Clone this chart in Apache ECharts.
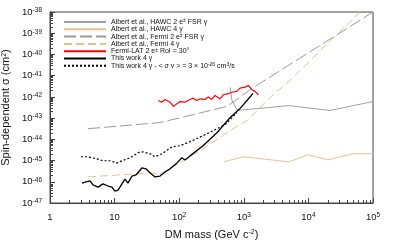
<!DOCTYPE html>
<html><head><meta charset="utf-8">
<script src="https://cdn.jsdelivr.net/npm/echarts@6/dist/echarts.min.js"></script>
<style>html,body{margin:0;padding:0;background:#fff}#c{width:415px;height:242px}#err{position:absolute;left:0;top:150px;font:9px sans-serif;color:#00f;width:415px}</style>
</head><body><div id="c"></div><div id="err"></div>
<script>
// Tick exponents (labels are 10^n)
const xTickExponents = [0, 1, 2, 3, 4, 5];
const yTickExponents = [-47, -46, -45, -44, -43, -42, -41, -40, -39, -38];
// Minor tick multipliers inside each decade
const minorMultipliers = [2, 3, 4, 5, 6, 7, 8, 9];
// y axis is drawn in units of 1e-47 cm^2 (label exponent = log10(value) + Y_REF)
const Y_REF = -47;

// Series: DM mass (GeV) and log10 of sigma (cm^2)
const hawc2eMass = [614, 657, 790, 5000, 21500, 100000];
const hawc2eLogSigma = [-41.55, -42.17, -42.64, -42.41, -42.64, -42.22];

const hawc4gMass = [494, 977, 5000, 9800, 20000, 49000, 100000];
const hawc4gLogSigma = [-45.06, -44.82, -45.06, -44.73, -44.97, -44.68, -44.68];

const fermi2eMass = [3.88, 50.5, 550, 1340, 100000];
const fermi2eLogSigma = [-43.50, -43.21, -42.45, -41.60, -38.0];

const fermi4gMass = [3.88, 35.3, 50.5, 72.1, 234, 681, 1122, 2285, 5190, 63000];
const fermi4gLogSigma = [-45.77, -45.58, -45.63, -45.39, -44.45, -43.50, -43.12, -42.17, -41.22, -38.0];

const latMass = [47.5, 53.6, 60.3, 72.1, 81.1, 91.5, 103, 123, 147, 165, 187, 210, 251, 282, 318, 358, 428, 482, 576, 650, 777, 873, 1045, 1175, 1247, 1325, 1490, 1676];
const latLogSigma = [-42.17, -42.25, -42.12, -42.25, -42.45, -42.33, -42.22, -42.25, -42.12, -42.06, -42.17, -42.09, -42.12, -42.01, -42.12, -41.93, -42.09, -41.90, -41.85, -41.78, -41.74, -41.59, -41.54, -41.46, -41.54, -41.65, -41.74, -41.90];

const thisMass = [3.13, 3.61, 4.16, 4.63, 5.53, 6.61, 7.91, 9.12, 10.1, 11.3, 13.0, 14.5, 16.1, 18.6, 21.4, 26.5, 30.6, 35.3, 42.2, 50.5, 60.3, 72.1, 92.5, 110, 123, 147, 234, 384, 611, 873, 1387];
const thisLogSigma = [-46.06, -46.01, -45.96, -46.15, -46.25, -46.10, -46.20, -46.25, -46.44, -46.39, -46.10, -45.87, -46.06, -45.73, -45.68, -45.35, -45.39, -45.58, -45.77, -45.73, -45.54, -45.39, -45.11, -44.87, -44.97, -44.78, -44.30, -43.69, -42.98, -42.55, -41.84];

const thisSvMass = [3.02, 3.74, 4.47, 5.34, 6.61, 8.49, 10.9, 13.0, 15.6, 18.6, 23.0, 27.5, 35.3, 42.2, 54.2, 77.4, 103, 147, 234, 358, 512, 657, 785];
const thisSvLogSigma = [-44.82, -44.82, -44.87, -44.92, -45.01, -45.01, -45.11, -45.01, -44.92, -44.82, -44.63, -44.59, -44.68, -44.82, -44.68, -44.35, -44.30, -44.11, -43.83, -43.55, -43.31, -42.98, -42.74];

const seriesNames = [
  'Albert et al., HAWC 2 e{sup|\u00b1} FSR \u03b3',
  'Albert et al., HAWC 4 \u03b3',
  'Albert et al., Fermi 2 e{sup|\u00b1} FSR \u03b3',
  'Albert et al., Fermi 4 \u03b3',
  'Fermi-LAT 2 e{sup|\u00b1} RoI = 30\u00b0',
  'This work 4 \u03b3',
  'This work 4 \u03b3 - < \u03c3 v > = 3 \u00d7 10{sup|-26} cm{sup|3}/s'
];

function pairs(m, l) { return m.map((v, i) => [v, Math.pow(10, l[i] - Y_REF)]); }
function minorValues(firstExp, lastExp) {
  const out = [];
  for (let e = firstExp; e < lastExp; e++) minorMultipliers.forEach(k => out.push(k * Math.pow(10, e)));
  return out;
}

const FONT = 'Liberation Sans, Arial, sans-serif';
const chart = echarts.init(document.getElementById('c'), null, {renderer: 'canvas'});

function mk(name, m, l, color, width, type) {
  return {
    name: name, type: 'line', data: pairs(m, l), symbol: 'none', showSymbol: false,
    xAxisIndex: 0, yAxisIndex: 0,
    lineStyle: {color: color, width: width, type: type}, itemStyle: {color: color},
    animation: false, clip: true, z: 2
  };
}

const supStyle = {fontSize: 6.5, verticalAlign: 'top', lineHeight: 6, fontFamily: FONT, color: '#111'};
const nameSup = {fontSize: 7, verticalAlign: 'top', lineHeight: 6, fontFamily: FONT, color: '#111'};

const option = {
  animation: false,
  grid: {left: 50, right: 42, top: 12, bottom: 39, show: true, borderColor: '#444', borderWidth: 1,
    containLabel: false, outerBoundsMode: 'none'},
  legend: {
    orient: 'vertical', left: 63, top: 18.5, padding: 0, itemWidth: 42, itemHeight: 7, itemGap: 0.3,
    itemStyle: {opacity: 0},
    textStyle: {fontFamily: FONT, fontSize: 7, color: '#111', lineHeight: 7,
      rich: {sup: {fontSize: 5, verticalAlign: 'top', lineHeight: 4, fontFamily: FONT, color: '#111'}}},
    data: seriesNames
  },
  xAxis: [{
    type: 'log', logBase: 10, min: 1, max: 100000, position: 'bottom',
    name: 'DM mass (GeV c{sup|-2})', nameLocation: 'middle', nameGap: 26,
    nameTextStyle: {fontFamily: FONT, fontSize: 11, color: '#111', rich: {sup: nameSup}},
    axisLine: {lineStyle: {color: '#444', width: 1}},
    axisTick: {inside: true, length: 5, lineStyle: {color: '#444'}},
    splitLine: {show: false},
    axisLabel: {
      fontFamily: FONT, fontSize: 9.5, color: '#111', margin: 9,
      formatter: function (v) {
        const e = Math.round(Math.log10(v));
        if (e === 0) return '1';
        if (e === 1) return '10';
        return '10{sup|' + e + '}';
      },
      rich: {sup: supStyle}
    }
  }, {
    type: 'log', logBase: 10, min: 1, max: 100000, position: 'bottom', offset: 0,
    axisLine: {show: false}, axisLabel: {show: false}, splitLine: {show: false},
    axisTick: {show: true, inside: true, length: 3, lineStyle: {color: '#444'},
      customValues: minorValues(xTickExponents[0], xTickExponents[xTickExponents.length - 1])}
  }],
  yAxis: [{
    type: 'log', logBase: 10, min: 1, max: 1e9, position: 'left',
    name: 'Spin-dependent \u03c3 (cm{sup|2})', nameLocation: 'middle', nameGap: 32, nameRotate: 90,
    nameTextStyle: {fontFamily: FONT, fontSize: 11, color: '#111', rich: {sup: nameSup}},
    axisLine: {lineStyle: {color: '#444', width: 1}},
    axisTick: {inside: true, length: 5, lineStyle: {color: '#444'}},
    splitLine: {show: false},
    axisLabel: {
      fontFamily: FONT, fontSize: 9.5, color: '#111', margin: 8,
      formatter: function (v) {
        const e = Math.round(Math.log10(v)) + Y_REF;
        return '10{sup|' + e + '}';
      },
      rich: {sup: supStyle}
    }
  }, {
    type: 'log', logBase: 10, min: 1, max: 1e9, position: 'left', offset: 0,
    axisLine: {show: false}, axisLabel: {show: false}, splitLine: {show: false},
    axisTick: {show: true, inside: true, length: 3, lineStyle: {color: '#444'},
      customValues: minorValues(0, yTickExponents.length - 1)}
  }],
  series: [
    mk(seriesNames[0], hawc2eMass, hawc2eLogSigma, '#a0a0a0', 1, 'solid'),
    mk(seriesNames[1], hawc4gMass, hawc4gLogSigma, '#e8c08e', 1, 'solid'),
    mk(seriesNames[2], fermi2eMass, fermi2eLogSigma, '#9a9a9a', 1, [12, 4]),
    mk(seriesNames[3], fermi4gMass, fermi4gLogSigma, '#e8c08e', 1, [8, 4]),
    mk(seriesNames[4], latMass, latLogSigma, '#ff0000', 1.2, 'solid'),
    mk(seriesNames[5], thisMass, thisLogSigma, '#000000', 1.3, 'solid'),
    mk(seriesNames[6], thisSvMass, thisSvLogSigma, '#000000', 1.2, [2, 2])
  ]
};
try { chart.setOption(option); } catch (e) { document.getElementById('err').textContent = e && (e.stack || e.message || String(e)); }
</script></body></html>
